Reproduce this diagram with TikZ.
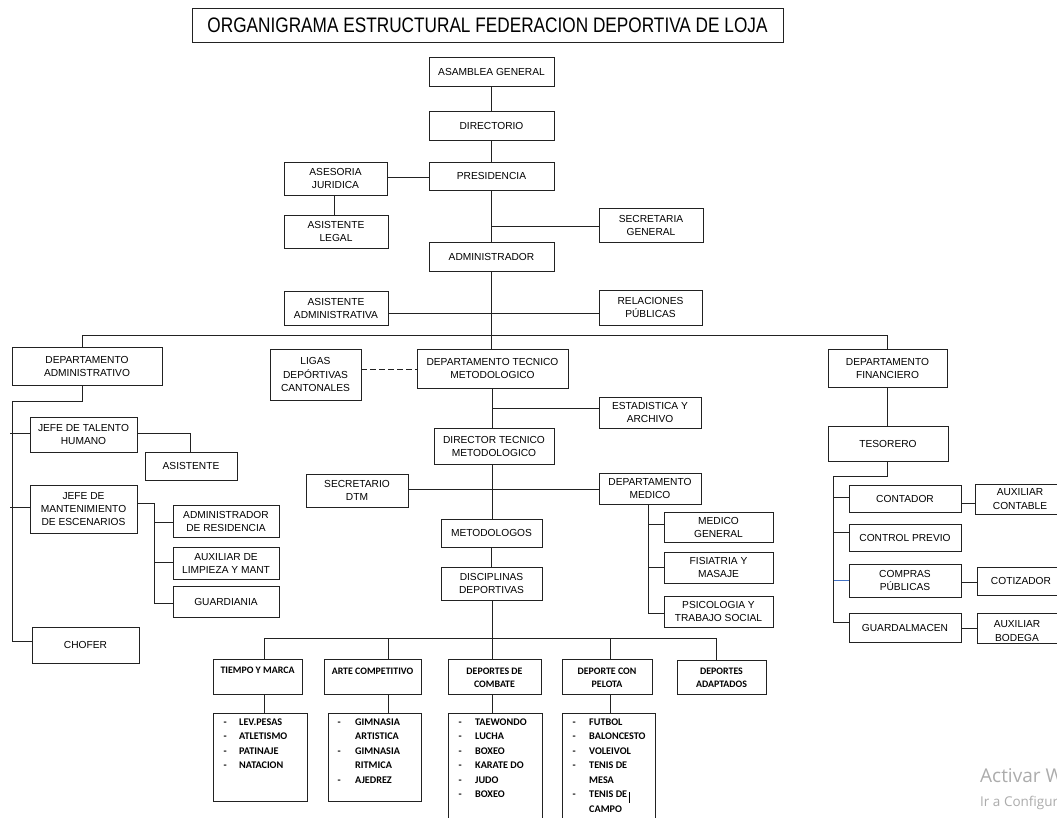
\documentclass[tikz,border=0pt]{standalone}
\usepackage{fontspec}
\setmainfont{Liberation Sans}
\newfontfamily\arialf{Liberation Sans}
\newfontfamily\narrowf[FakeStretch=0.82]{Liberation Sans}
\newfontfamily\calf{Carlito}
\newfontfamily\segf{Open Sans}
\usetikzlibrary{calc}
\definecolor{ln}{HTML}{222222}
\definecolor{wblue}{HTML}{4472C4}
\definecolor{wm}{HTML}{ACACAC}
\newcommand\obox[6][]{\node[box,#1,minimum width={#4-#2},minimum height={#5-#3}] (#6) at ({(#2+#4)/2},{(#3+#5)/2})}
\newcommand\lidash[1]{\makebox[#1][l]{-}}
\newcommand\linodash[1]{\hspace*{#1}}
\begin{document}
\begin{tikzpicture}[x=1pt,y=-1pt,
  box/.style={draw=ln, line width=0.9pt, fill=white, align=center, inner sep=1pt, font=\arialf\fontsize{10.2}{13}\selectfont},
  ctext/.style={align=center, inner sep=0pt, font=\calf\bfseries\fontsize{9.9}{13.5}\selectfont, anchor=north},
  ltext/.style={align=left, inner sep=0pt, font=\calf\bfseries\fontsize{10.2}{14.5}\selectfont, anchor=north west},
  conn/.style={draw=ln, line width=0.9pt},
]
\useasboundingbox (0,0) rectangle (1057,817);
\fill[white] (0,0) rectangle (1057,817);

% ---------- title
\obox[font=\narrowf\fontsize{21}{22}\selectfont]{192}{8}{783}{42}{title} {ORGANIGRAMA ESTRUCTURAL FEDERACION DEPORTIVA DE LOJA};

% ---------- top chain
\obox{429}{57}{554}{86}{asamblea} {ASAMBLEA GENERAL};
\obox{429}{111}{554}{140}{directorio} {DIRECTORIO};
\obox{429}{162}{554}{190}{presidencia} {PRESIDENCIA};
\obox{284}{162}{387}{195}{asesoria} {ASESORIA\\JURIDICA};
\obox{284}{215}{388}{248}{asislegal} {ASISTENTE\\LEGAL};
\obox{599}{208}{703}{242}{secgen} {SECRETARIA\\GENERAL};
\obox{429}{242}{554}{271}{administrador} {ADMINISTRADOR};
\obox{284}{291}{388}{325}{asisadm} {ASISTENTE\\ADMINISTRATIVA};
\obox{599}{290}{702}{325}{relpub} {RELACIONES\\PÚBLICAS};

% ---------- second level
\obox{12}{347}{162}{385}{deptadm} {DEPARTAMENTO\\ADMINISTRATIVO};
\obox[font=\arialf\fontsize{10.2}{13.5}\selectfont]{270}{349}{361}{400}{ligas} {LIGAS\\DEPÓRTIVAS\\CANTONALES};
\obox{417}{349}{568}{388}{dtm} {DEPARTAMENTO TECNICO\\METODOLOGICO};
\obox{828}{349}{947}{387}{deptfin} {DEPARTAMENTO\\FINANCIERO};

% ---------- technical branch
\obox{599}{397}{701}{428}{estad} {ESTADISTICA Y\\ARCHIVO};
\obox{434}{428}{554}{464}{dirtec} {DIRECTOR TECNICO\\METODOLOGICO};
\obox{306}{474}{408}{507}{secdtm} {SECRETARIO\\DTM};
\obox{599}{473}{701}{504}{deptmed} {DEPARTAMENTO\\MEDICO};
\obox{441}{519}{542}{547}{metod} {METODOLOGOS};
\obox{441}{567}{542}{600}{discip} {DISCIPLINAS\\DEPORTIVAS};
\obox{664}{512}{773}{542}{medgen} {MEDICO\\GENERAL};
\obox{664}{552}{773}{583}{fisiat} {FISIATRIA Y\\MASAJE};
\obox{664}{596}{773}{627}{psico} {PSICOLOGIA Y\\TRABAJO SOCIAL};

% ---------- administrative branch
\obox{30}{417}{137}{452}{jefeth} {JEFE DE TALENTO\\HUMANO};
\obox{145}{452}{237}{480}{asist} {ASISTENTE};
\obox{30}{485}{137}{533}{jefemant} {JEFE DE\\MANTENIMIENTO\\DE ESCENARIOS};
\obox{173}{505}{279}{537}{admres} {ADMINISTRADOR\\DE RESIDENCIA};
\obox{173}{547}{279}{579}{auxlim} {AUXILIAR DE\\LIMPIEZA Y MANT};
\obox{173}{586}{279}{617}{guard} {GUARDIANIA};
\obox{32}{627}{139}{663}{chofer} {CHOFER};

% ---------- financial branch
\obox{828}{426}{948}{461}{tesorero} {TESORERO};
\obox{849}{485}{961}{512}{contador} {CONTADOR};
\obox[font=\arialf\fontsize{10.2}{14}\selectfont]{975}{484}{1065}{514}{auxcont} {AUXILIAR\\CONTABLE};
\obox{849}{524}{961}{551}{ctrlprev} {CONTROL PREVIO};
\obox{849}{564}{961}{597}{compras} {COMPRAS\\PÚBLICAS};
\obox{977}{567}{1065}{595}{cotiz} {\raisebox{-7pt}{COTIZADOR}};
\obox{849}{613}{961}{642}{guardalm} {GUARDALMACEN};
\obox{977}{613}{1065}{643}{auxbod} {};
\begin{scope}
  \clip (978,614) rectangle (1064,640.5);
  \node[align=center, inner sep=0pt, font=\arialf\fontsize{10.2}{14}\selectfont] (auxbodT) at (1017,631) {AUXILIAR\\BODEGA};
\end{scope}

% ---------- sports disciplines
\obox{213}{659}{302}{694}{tiempo} {};
\obox{324}{659}{421}{694}{arte} {};
\obox{448}{659}{541}{694}{combate} {};
\obox{562}{659}{652}{694}{pelota} {};
\obox{677}{660}{766}{694}{adapt} {};
\node[ctext] (tiempoT) at (257.5,666.5) {TIEMPO Y MARCA};
\node[ctext] (arteT) at (372.5,667.5) {ARTE COMPETITIVO};
\node[ctext] (combateT) at (494.5,667.5) {DEPORTES DE\\COMBATE};
\node[ctext] (pelotaT) at (607,667.5) {DEPORTE CON\\PELOTA};
\node[ctext] (adaptT) at (721.5,667.5) {DEPORTES\\ADAPTADOS};

\obox{213}{713}{307}{801}{tlist} {};
\obox{328}{713}{421}{801}{alist} {};
\obox{448}{713}{542}{840}{clist} {};
\obox{562}{713}{655}{840}{plist} {};
\node[ltext] (tlistT) at (223.5,718.5) {\lidash{15.5pt}LEV.PESAS\\\lidash{15.5pt}ATLETISMO\\\lidash{15.5pt}PATINAJE\\\lidash{15.5pt}NATACION};
\node[ltext] (alistT) at (337.5,718.5) {\lidash{17.5pt}GIMNASIA\\\linodash{17.5pt}ARTISTICA\\\lidash{17.5pt}GIMNASIA\\\linodash{17.5pt}RITMICA\\\lidash{17.5pt}AJEDREZ};
\node[ltext] (clistT) at (458.5,718.5) {\lidash{16.5pt}TAEWONDO\\\lidash{16.5pt}LUCHA\\\lidash{16.5pt}BOXEO\\\lidash{16.5pt}KARATE DO\\\lidash{16.5pt}JUDO\\\lidash{16.5pt}BOXEO};
\node[ltext] (plistT) at (572.5,718.5) {\lidash{16.5pt}FUTBOL\\\lidash{16.5pt}BALONCESTO\\\lidash{16.5pt}VOLEIVOL\\\lidash{16.5pt}TENIS DE\\\linodash{16.5pt}MESA\\\lidash{16.5pt}TENIS DE\\\linodash{16.5pt}CAMPO};
\draw[line width=0.8pt, black] (629,792) -- (629,803);

% ---------- connectors: top
\draw[conn] (asamblea) -- (directorio);
\draw[conn] (directorio) -- (presidencia);
\draw[conn] (asesoria.east |- 0,177) -- (presidencia.west |- 0,177);
\draw[conn] (asesoria.south -| 334,0) -- (asislegal.north -| 334,0);
\draw[conn] (presidencia) -- (administrador);
\coordinate (jsec) at (presidencia.south |- 0,226);
\draw[conn] (jsec) -- (secgen.west |- jsec);
\draw[conn] (asisadm.east |- 0,313) -- (relpub.west |- 0,313);
\draw[conn] (administrador.south) -- (administrador.south |- dtm.north);
\coordinate (bL) at (82,335);
\coordinate (bR) at (887.5,335);
\draw[conn] (deptadm.north -| bL) -- (bL) -- (bR) -- (deptfin.north);

% ---------- connectors: technical
\draw[conn, dash pattern=on 6pt off 3pt] (ligas.east |- 0,369) -- (dtm.west |- 0,369);
\draw[conn] (dtm.south -| 492,0) -- (dirtec.north -| 492,0);
\draw[conn] (492,408) -- (estad.west |- 0,408);
\draw[conn] (dirtec.south -| 492,0) -- (metod.north -| 492,0);
\draw[conn] (secdtm.east |- 0,489) -- (deptmed.west |- 0,489);
\draw[conn] (metod) -- (discip);
\draw[conn] (deptmed.south -| 648,0) -- (648,613) -- (psico.west |- 0,613);
\draw[conn] (648,524) -- (medgen.west |- 0,524);
\draw[conn] (648,567) -- (fisiat.west |- 0,567);

% ---------- connectors: disciplines
\coordinate (dL) at (264,638);
\coordinate (dR) at (716,638);
\draw[conn] (discip.south -| 492,0) -- (492,638);
\draw[conn] (tiempo.north -| dL) -- (dL) -- (dR) -- (adapt.north -| dR);
\draw[conn] (arte.north -| 388,0) -- (388,638);
\draw[conn] (combate.north -| 492,0) -- (492,638);
\draw[conn] (pelota.north -| 610,0) -- (610,638);
\draw[conn] (tiempo.south -| 264,0) -- (tlist.north -| 264,0);
\draw[conn] (arte.south -| 388,0) -- (alist.north -| 388,0);
\draw[conn] (combate.south -| 492,0) -- (clist.north -| 492,0);
\draw[conn] (pelota.south -| 610,0) -- (plist.north -| 610,0);

% ---------- connectors: administrative
\draw[conn] (deptadm.south -| bL) -- (82,401) -- (12,401) -- (12,641) -- (chofer.west |- 0,641);
\draw[conn] (10,433) -- (jefeth.west |- 0,433);
\draw[conn] (10,507) -- (jefemant.west |- 0,507);
\draw[conn] (jefeth.east |- 0,433) -| (asist.north -| 190,0);
\draw[conn] (jefemant.east |- 0,503) -- (154,503) -- (154,603) -- (guard.west |- 0,603);
\draw[conn] (154,522) -- (admres.west |- 0,522);
\draw[conn] (154,562) -- (auxlim.west |- 0,562);

% ---------- connectors: financial
\draw[conn] (deptfin.south) -- (deptfin.south |- tesorero.north);
\draw[conn] (tesorero.south -| 887.5,0) -- (887.5,476) -- (833,476) -- (833,622) -- (guardalm.west |- 0,622);
\draw[conn] (833,497) -- (contador.west |- 0,497);
\draw[conn] (833,532) -- (ctrlprev.west |- 0,532);
\draw[conn, draw=wblue] (833.5,580) -- (compras.west |- 0,580);
\draw[conn] (contador.east |- 0,503) -- (auxcont.west |- 0,503);
\draw[conn] (compras.east |- 0,582) -- (cotiz.west |- 0,582);
\draw[conn] (guardalm.east |- 0,628) -- (auxbod.west |- 0,628);

% ---------- watermark (cut by the right edge, as in the screenshot)
\node[anchor=west, inner sep=0pt, text=wm, font=\segf\fontsize{19}{19}\selectfont] (wm1) at (980,775) {Activar Windows};
\node[anchor=west, inner sep=0pt, text=wm, font=\segf\fontsize{13.5}{14}\selectfont] (wm2) at (980,803) {Ir a Configuración para activar Windows.};
\end{tikzpicture}
\end{document}
